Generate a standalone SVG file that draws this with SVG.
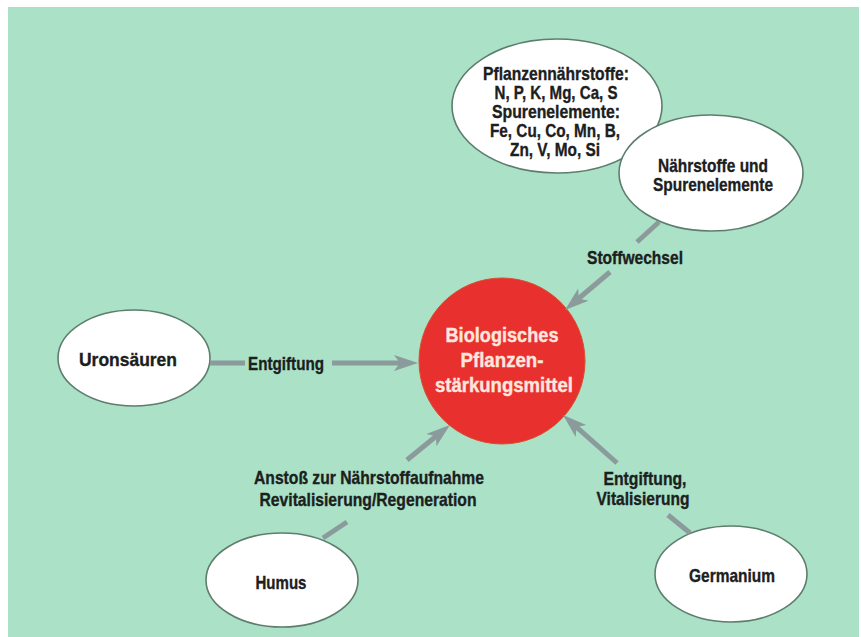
<svg xmlns="http://www.w3.org/2000/svg" width="861" height="637" viewBox="0 0 861 637">
<style>
.bg{fill:#aae1c7}
.node{fill:#ffffff;stroke:#5e7d6e;stroke-width:1.6}
.core{fill:#e8302e;stroke:#d8502c;stroke-width:1}
.t{font-family:"Liberation Sans Narrow","Liberation Sans",Arial,sans-serif;font-weight:bold;font-size:19px;fill:#1b201d;stroke:#1b201d;stroke-width:0.35;text-anchor:middle}
.w{fill:#fde6df;stroke:#fde6df;stroke-width:0.4;font-size:21px}
.c{stroke:#8b9a9b;stroke-width:5;fill:none}
.a{marker-end:url(#ah)}
</style>
<defs>
<marker id="ah" markerUnits="userSpaceOnUse" markerWidth="26" markerHeight="18" viewBox="0 -9 26 18" refX="10" refY="0" orient="auto">
<path d="M0,-8 L24,0 L0,8 L6,0 Z" fill="#8b9a9b"/>
</marker>
</defs>
<rect x="0" y="0" width="861" height="637" fill="#ffffff"/>
<rect class="bg" x="8" y="7" width="851" height="630"/>

<g id="node-pflanzennaehrstoffe">
<ellipse class="node" cx="557" cy="106" rx="105" ry="67"/>
<text class="t" x="556" y="80" textLength="146" lengthAdjust="spacingAndGlyphs">Pflanzennährstoffe:</text>
<text class="t" x="556" y="99" textLength="123" lengthAdjust="spacingAndGlyphs">N, P, K, Mg, Ca, S</text>
<text class="t" x="556" y="118" textLength="128" lengthAdjust="spacingAndGlyphs">Spurenelemente:</text>
<text class="t" x="555" y="137" textLength="130" lengthAdjust="spacingAndGlyphs">Fe, Cu, Co, Mn, B,</text>
<text class="t" x="555" y="156" textLength="90" lengthAdjust="spacingAndGlyphs">Zn, V, Mo, Si</text>
</g>

<g id="node-naehrstoffe">
<ellipse class="node" cx="711" cy="173" rx="92" ry="58"/>
<text class="t" x="713" y="172" textLength="110" lengthAdjust="spacingAndGlyphs">Nährstoffe und</text>
<text class="t" x="713" y="191" textLength="120" lengthAdjust="spacingAndGlyphs">Spurenelemente</text>
</g>

<g id="node-uronsaeuren">
<ellipse class="node" cx="134" cy="358" rx="76" ry="48"/>
<text class="t" x="128" y="366" textLength="98" lengthAdjust="spacingAndGlyphs">Uronsäuren</text>
</g>

<g id="node-humus">
<ellipse class="node" cx="282" cy="580" rx="76" ry="47"/>
<text class="t" x="281" y="589" textLength="51" lengthAdjust="spacingAndGlyphs">Humus</text>
</g>

<g id="node-germanium">
<ellipse class="node" cx="731" cy="574" rx="76" ry="48"/>
<text class="t" x="732" y="582" textLength="86" lengthAdjust="spacingAndGlyphs">Germanium</text>
</g>

<g id="node-biologisches">
<circle class="core" cx="502" cy="361" r="83"/>
<text class="t w" x="502" y="342" textLength="113" lengthAdjust="spacingAndGlyphs">Biologisches</text>
<text class="t w" x="502" y="367" textLength="83" lengthAdjust="spacingAndGlyphs">Pflanzen-</text>
<text class="t w" x="504" y="392" textLength="138" lengthAdjust="spacingAndGlyphs">stärkungsmittel</text>
</g>

<g id="connectors">
<line class="c" x1="659" y1="222" x2="637" y2="242"/>
<line class="c a" x1="610" y1="272" x2="575.7" y2="301"/>
<text class="t" x="635" y="264" textLength="96" lengthAdjust="spacingAndGlyphs">Stoffwechsel</text>

<line class="c" x1="210" y1="363" x2="245" y2="363"/>
<line class="c a" x1="332" y1="363" x2="404" y2="363"/>
<text class="t" x="286" y="370" textLength="76" lengthAdjust="spacingAndGlyphs">Entgiftung</text>

<line class="c" x1="323" y1="538" x2="347" y2="522"/>
<line class="c a" x1="407" y1="460" x2="439.1" y2="433.8"/>
<text class="t" x="369" y="484" textLength="230" lengthAdjust="spacingAndGlyphs">Anstoß zur Nährstoffaufnahme</text>
<text class="t" x="368" y="506" textLength="217" lengthAdjust="spacingAndGlyphs">Revitalisierung/Regeneration</text>

<line class="c" x1="690" y1="533" x2="668" y2="515"/>
<line class="c a" x1="617" y1="463" x2="573.5" y2="424.3"/>
<text class="t" x="645" y="485" textLength="83" lengthAdjust="spacingAndGlyphs">Entgiftung,</text>
<text class="t" x="643" y="505" textLength="93" lengthAdjust="spacingAndGlyphs">Vitalisierung</text>
</g>
</svg>
